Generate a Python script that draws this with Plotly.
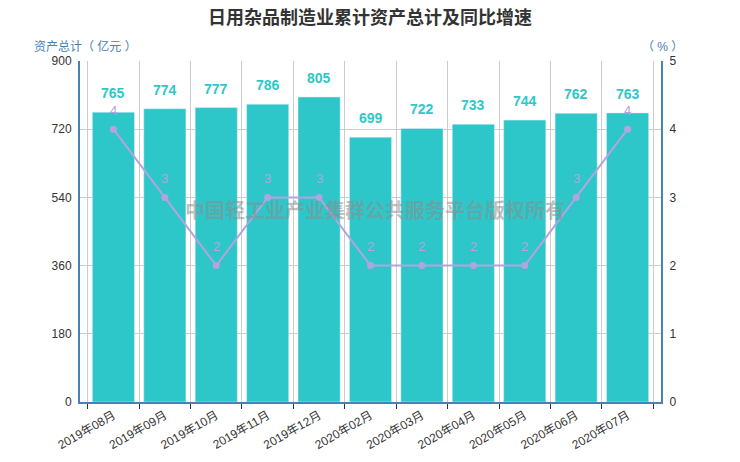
import plotly.graph_objects as go

months = ["2019年08月", "2019年09月", "2019年10月", "2019年11月", "2019年12月",
          "2020年02月", "2020年03月", "2020年04月", "2020年05月", "2020年06月", "2020年07月"]
assets = [765, 774, 777, 786, 805, 699, 722, 733, 744, 762, 763]
growth = [4, 3, 2, 3, 3, 2, 2, 2, 2, 3, 4]

FONT = "Liberation Sans, Noto Sans CJK SC, sans-serif"
TEAL = "#2ec7c9"
PURPLE = "#b6a2de"
AXBLUE = "#4682b4"

fig = go.Figure()
fig.add_trace(go.Bar(x=months, y=assets, marker_color=TEAL, name="资产总计"))
fig.add_trace(go.Scatter(x=months, y=growth, yaxis="y2", mode="lines+markers",
                         line=dict(color=PURPLE, width=2),
                         marker=dict(color=PURPLE, size=7), name="同比增速"))

# labels on bars and points
for m, v in zip(months, assets):
    fig.add_annotation(x=m, y=v, text="<b>%d</b>" % v, showarrow=False, yshift=19,
                       font=dict(color=TEAL, size=14, family=FONT))
for m, g in zip(months, growth):
    fig.add_annotation(x=m, y=g, yref="y2", text=str(g), showarrow=False, yshift=19,
                       font=dict(color=PURPLE, size=13, family=FONT))

# axis names
fig.add_annotation(x=-0.083, y=1.015, xref="paper", yref="paper", xanchor="left", yanchor="bottom",
                   text="资产总计（ 亿元 ）", showarrow=False,
                   font=dict(color=AXBLUE, size=12, family=FONT))
fig.add_annotation(x=1.002, y=1.015, xref="paper", yref="paper", xanchor="center", yanchor="bottom",
                   text="（ % ）", showarrow=False,
                   font=dict(color=AXBLUE, size=12, family=FONT))

# watermark
fig.add_annotation(x=0.508, y=0.562, xref="paper", yref="paper", showarrow=False,
                   text="<b>中国轻工业产业集群公共服务平台版权所有</b>",
                   font=dict(color="rgba(140,140,140,0.55)", size=20, family=FONT))

# page body has an 8px margin, so the figure is shrunk by that much
fig.update_layout(
    width=732, height=454,
    margin=dict(l=72, r=79, t=53, b=60, autoexpand=False),
    plot_bgcolor="white", paper_bgcolor="white",
    showlegend=False, bargap=0.18,
    font=dict(family=FONT, color="#333", size=12),
    title=dict(text="<b>日用杂品制造业累计资产总计及同比增速</b>", x=0.4945, xanchor="center",
               y=0.978, yanchor="middle", font=dict(size=18, color="#333", family=FONT)),
    xaxis=dict(type="category", tickson="boundaries", tickangle=-30, automargin=False,
               showgrid=True, gridcolor="#cccccc", gridwidth=1,
               ticks="outside", ticklen=5, tickcolor="#333",
               showline=True, linecolor=AXBLUE, linewidth=2, mirror=False,
               tickfont=dict(size=12, color="#333")),
    yaxis=dict(range=[0, 900], tickvals=[0, 180, 360, 540, 720, 900], automargin=False,
               showgrid=True, gridcolor="#cccccc", zeroline=False,
               showline=True, linecolor=AXBLUE, linewidth=2, ticks="",
               ticklabelstandoff=4,
               tickfont=dict(size=12, color="#333")),
    yaxis2=dict(range=[0, 5], tickvals=[0, 1, 2, 3, 4, 5], overlaying="y", side="right",
                automargin=False, showgrid=False, zeroline=False,
                showline=True, linecolor=AXBLUE, linewidth=2, ticks="",
                ticklabelstandoff=4,
                tickfont=dict(size=12, color="#333")),
)

fig.write_html("out.html")
